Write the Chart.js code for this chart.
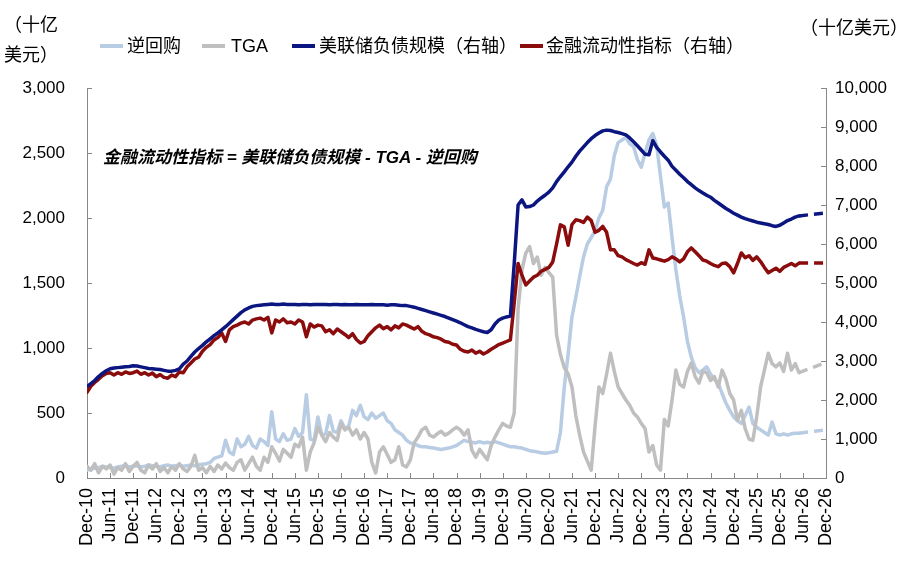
<!DOCTYPE html>
<html><head><meta charset="utf-8">
<script src="https://cdn.jsdelivr.net/npm/chart.js@4.4.0/dist/chart.umd.min.js"></script>
<style>
html,body{margin:0;padding:0;background:#fff;}
#wrap{position:relative;width:922px;height:571px;overflow:hidden;}
canvas{position:absolute;left:0;top:0;}
.t{position:absolute;font-family:"Liberation Sans","Noto Sans CJK SC",sans-serif;font-size:18px;color:#000;white-space:nowrap;line-height:20px;}
.m{position:absolute;height:4px;width:23px;}
</style></head><body>
<div id="wrap">
<canvas id="c" width="922" height="571"></canvas>
<div class="t" style="left:4px;top:10px;line-height:30px;">（十亿<br>美元）</div>
<div class="t" style="left:800px;top:18px;">（十亿美元）</div>
<div class="m" style="left:100px;top:44px;background:#b8cce4;"></div>
<div class="t" style="left:127px;top:36px;">逆回购</div>
<div class="m" style="left:202px;top:44px;background:#bfbfbf;"></div>
<div class="t" style="left:231px;top:36px;">TGA</div>
<div class="m" style="left:292px;top:44px;background:#0c1680;"></div>
<div class="t" style="left:319px;top:36px;">美联储负债规模（右轴）</div>
<div class="m" style="left:520px;top:44px;background:#8b0c0c;"></div>
<div class="t" style="left:546px;top:36px;">金融流动性指标（右轴）</div>
<div class="t" style="left:103px;top:148px;font-style:italic;font-weight:bold;font-size:17px;">金融流动性指标 = 美联储负债规模 - TGA - 逆回购</div>
</div>
<script>
// x tick labels, one every 6 months starting Dec-10 (month index 0)
const tickLabels = ["Dec-10","Jun-11","Dec-11","Jun-12","Dec-12","Jun-13","Dec-13","Jun-14","Dec-14","Jun-15","Dec-15","Jun-16","Dec-16","Jun-17","Dec-17","Jun-18","Dec-18","Jun-19","Dec-19","Jun-20","Dec-20","Jun-21","Dec-21","Jun-22","Dec-22","Jun-23","Dec-23","Jun-24","Dec-24","Jun-25","Dec-25","Jun-26","Dec-26"];

// monthly values, index 0 = Dec-10 (十亿美元)
const rrp = [
60,70,75,80,90,85,80,75,85,90,95,85,
90,95,85,90,100,95,90,85,95,100,90,95,
100,90,95,100,95,100,105,110,120,150,160,170,
290,200,180,300,240,260,320,250,230,300,280,250,
510,300,280,340,290,300,380,320,350,640,300,290,
470,330,340,480,360,350,440,380,400,520,480,560,
470,450,500,460,480,500,440,420,370,350,330,290,
270,260,250,240,240,235,230,225,220,225,230,240,
250,270,290,280,275,270,280,270,275,270,280,270,
260,250,240,240,235,230,220,210,205,200,195,190,
195,200,205,350,700,950,1240,1390,1550,1700,1800,1850,
1900,2000,2060,2240,2300,2480,2580,2600,2620,2570,2550,2450,
2390,2500,2600,2650,2560,2320,2085,2115,1850,1600,1400,1240,
1050,930,850,810,830,855,800,760,730,650,577,520,
470,440,420,480,546,420,390,370,350,330,430,340,
330,340,330,340,345,345];

const tga = [
90,60,110,40,90,70,100,30,80,60,110,50,
90,120,60,40,100,70,110,50,80,40,90,60,
110,70,50,90,175,60,80,40,90,50,100,70,
115,80,60,120,140,60,110,160,90,60,160,120,
240,190,130,220,190,160,260,240,315,60,200,270,
390,330,280,350,315,290,420,370,390,330,370,300,
350,300,120,38,200,240,180,120,140,240,100,85,
140,270,315,370,390,330,315,340,360,330,345,370,
390,370,330,370,215,160,220,180,140,250,315,370,
420,400,390,500,1300,1600,1730,1780,1650,1700,1560,1620,
1580,1545,1100,950,850,800,700,480,330,200,130,60,
400,700,650,800,960,820,700,650,600,560,500,470,
420,380,200,250,100,60,450,400,600,830,720,700,
820,885,780,730,820,810,750,780,700,830,760,650,
600,445,520,380,300,290,470,700,830,960,880,855,
885,820,960,830,880,810];

const fed = [
2350,2420,2500,2600,2680,2750,2800,2820,2830,2840,2850,2860,
2880,2870,2850,2830,2810,2800,2790,2780,2760,2740,2740,2760,
2800,2920,3000,3120,3230,3320,3400,3490,3570,3650,3720,3800,
3880,3970,4060,4150,4240,4310,4360,4400,4420,4430,4440,4450,
4460,4450,4450,4460,4450,4450,4450,4440,4450,4450,4440,4450,
4450,4450,4450,4440,4450,4450,4440,4450,4440,4440,4450,4440,
4440,4440,4450,4440,4440,4440,4430,4440,4440,4430,4420,4420,
4400,4380,4350,4320,4290,4260,4230,4200,4170,4140,4100,4060,
4020,3980,3930,3880,3850,3810,3780,3750,3730,3800,3950,4050,
4100,4130,4150,5500,7000,7130,6950,6960,7000,7100,7180,7250,
7330,7440,7600,7730,7850,7980,8100,8250,8380,8490,8600,8700,
8780,8845,8900,8920,8910,8880,8860,8830,8800,8720,8620,8520,
8410,8300,8290,8650,8480,8360,8250,8150,7990,7890,7790,7700,
7600,7520,7440,7370,7310,7250,7200,7120,7050,6980,6910,6850,
6790,6740,6690,6650,6620,6590,6560,6540,6520,6500,6470,6450,
6480,6540,6600,6640,6690,6720];

const liq = [
2200,2350,2450,2530,2620,2680,2700,2640,2700,2660,2720,2680,
2700,2740,2660,2700,2640,2690,2600,2650,2580,2560,2640,2600,
2720,2700,2850,2950,3050,3100,3250,3350,3420,3540,3600,3720,
3500,3800,3880,3920,3970,4000,3950,4050,4080,4100,4050,4120,
3720,4050,4000,4080,3980,4000,3950,4050,4000,3620,3950,3870,
3920,3900,3750,3800,3700,3820,3750,3680,3600,3700,3550,3460,
3500,3650,3750,3850,3920,3830,3880,3800,3900,3850,3950,3920,
3870,3820,3880,3760,3700,3670,3620,3600,3560,3500,3480,3430,
3410,3300,3250,3230,3280,3200,3250,3180,3230,3300,3360,3420,
3460,3500,3540,4500,5500,5200,4950,5050,5150,5200,5300,5350,
5400,5540,6000,6490,6440,5970,6500,6620,6600,6550,6690,6600,
6300,6350,6450,6300,5850,5850,5700,5670,5600,5550,5500,5460,
5520,5480,5850,5640,5620,5590,5560,5600,5670,5620,5540,5620,
5800,5900,5800,5700,5590,5560,5500,5450,5420,5500,5510,5420,
5260,5500,5770,5650,5700,5580,5670,5550,5400,5260,5320,5380,
5300,5400,5450,5500,5440,5510];

// projection (dashed) segments: month index and values
const projMonths = [185, 192];
const rrpProj = [345, 370];
const tgaProj = [810, 890];
const fedProj = [6720, 6800];
const liqProj = [5510, 5510];

const NAVY = '#0c1680', RED = '#8b0c0c', LBLUE = '#b8cce4', GRAY = '#bfbfbf';
const FONT = '"Liberation Sans", Arial, sans-serif';

const pts = arr => arr.map((v, i) => ({x: i, y: v}));
const proj = arr => projMonths.map((m, k) => ({x: m, y: arr[k]}));

const innerTicks = {
  id: 'innerTicks',
  afterDraw(chart) {
    const ctx = chart.ctx, a = chart.chartArea;
    ctx.save();
    ctx.strokeStyle = '#888';
    ctx.lineWidth = 1;
    ctx.beginPath();
    const sx = chart.scales.x, sy = chart.scales.y, sy1 = chart.scales.y1;
    sx.ticks.forEach(t => { const x = Math.round(sx.getPixelForValue(t.value)) + 0.5; ctx.moveTo(x, a.bottom); ctx.lineTo(x, a.bottom - 5); });
    sy.ticks.forEach(t => { const y = Math.round(sy.getPixelForValue(t.value)) + 0.5; ctx.moveTo(a.left, y); ctx.lineTo(a.left + 5, y); });
    sy1.ticks.forEach(t => { const y = Math.round(sy1.getPixelForValue(t.value)) + 0.5; ctx.moveTo(a.right, y); ctx.lineTo(a.right - 5, y); });
    ctx.stroke();
    ctx.restore();
  }
};

const line = (data, color, axis, order, dash) => ({
  data, borderColor: color, backgroundColor: color, yAxisID: axis, order,
  borderWidth: 3.5, pointRadius: 0, tension: 0, fill: false,
  borderDash: dash ? [9, 6] : [], borderJoinStyle: 'round', borderCapStyle: dash ? 'butt' : 'round'
});

new Chart(document.getElementById('c'), {
  type: 'line',
  data: { datasets: [
    line(pts(fed), NAVY, 'y1', 1, false),
    line(proj(fedProj), NAVY, 'y1', 1, true),
    line(pts(liq), RED, 'y1', 2, false),
    line(proj(liqProj), RED, 'y1', 2, true),
    line(pts(tga), GRAY, 'y', 3, false),
    line(proj(tgaProj), GRAY, 'y', 3, true),
    line(pts(rrp), LBLUE, 'y', 4, false),
    line(proj(rrpProj), LBLUE, 'y', 4, true)
  ]},
  options: {
    responsive: false, animation: false, devicePixelRatio: 1,
    layout: { padding: { top: 88, left: 0, right: 0, bottom: 0 } },
    plugins: { legend: { display: false }, tooltip: { enabled: false } },
    scales: {
      x: {
        type: 'linear', min: 0, max: 192,
        grid: { display: false, drawTicks: false },
        border: { display: true, color: '#888', width: 1 },
        ticks: { stepSize: 6, autoSkip: false, maxRotation: 90, minRotation: 90, padding: 10,
          color: '#000', font: { family: FONT, size: 18 },
          callback: v => tickLabels[Math.round(v / 6)] },
        afterFit: s => { s.height = 93; }
      },
      y: {
        position: 'left', min: 0, max: 3000,
        grid: { display: false, drawTicks: false },
        border: { display: true, color: '#888', width: 1 },
        ticks: { stepSize: 500, padding: 22, color: '#000', font: { family: FONT, size: 17 },
          callback: v => v.toLocaleString('en-US') },
        afterFit: s => { s.width = 87; }
      },
      y1: {
        position: 'right', min: 0, max: 10000,
        grid: { display: false, drawTicks: false },
        border: { display: true, color: '#888', width: 1 },
        ticks: { stepSize: 1000, padding: 9, color: '#000', font: { family: FONT, size: 17 },
          callback: v => v.toLocaleString('en-US') },
        afterFit: s => { s.width = 96; }
      }
    }
  },
  plugins: [innerTicks]
});
</script>
</body></html>
